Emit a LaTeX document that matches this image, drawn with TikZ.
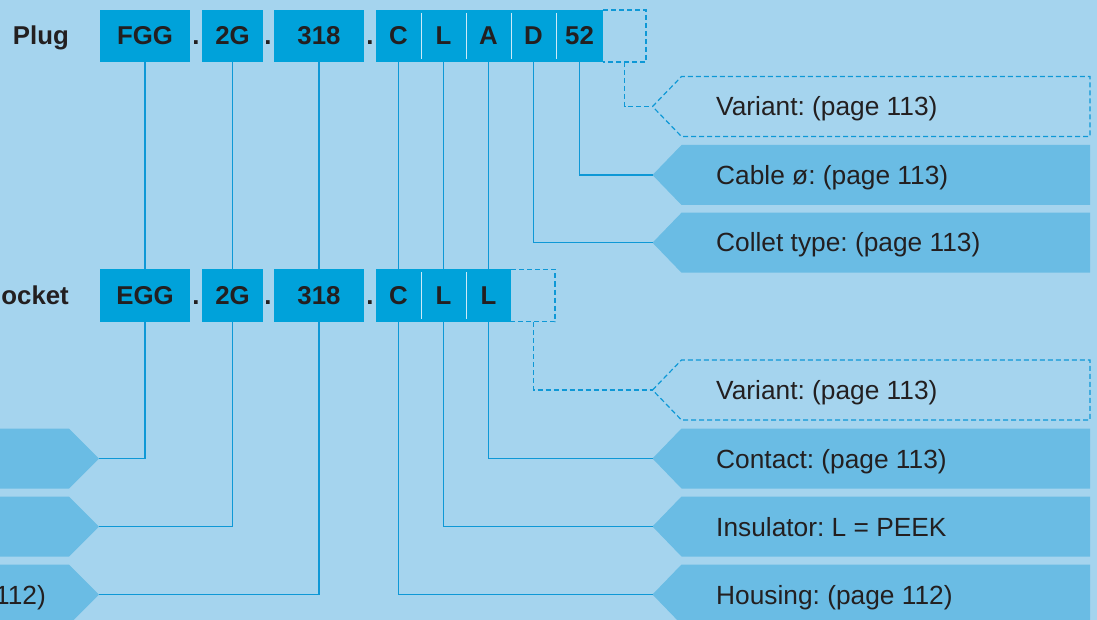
\documentclass[tikz,border=0pt]{standalone}
\usepackage{fontspec}
\setmainfont{Liberation Sans}
\frenchspacing
\definecolor{bgc}{HTML}{A5D4EE}
\definecolor{cellc}{HTML}{00A2DA}
\definecolor{arrc}{HTML}{6ABCE4}
\definecolor{linec}{HTML}{0E98D6}
\definecolor{txtc}{HTML}{231F20}
\definecolor{divc}{HTML}{CDEAF8}
\tikzset{
  cell/.style={fill=cellc, inner sep=0pt, minimum height=52pt, text height=18pt, text depth=0pt,
    font=\fontsize{25.8}{30}\selectfont\bfseries, text=txtc},
  dotlbl/.style={anchor=base, inner sep=0pt, font=\fontsize{25.8}{30}\selectfont\bfseries, text=txtc},
  rowlbl/.style={anchor=base east, inner sep=0pt, font=\fontsize{25.8}{30}\selectfont\bfseries, text=txtc},
  lbl/.style={anchor=base west, inner sep=0pt, font=\fontsize{26.3}{30}\selectfont, text=txtc},
  conn/.style={draw=linec, line width=1.2pt},
  dconn/.style={draw=linec, line width=1.2pt, dash pattern=on 5pt off 3pt},
  arrfill/.style={fill=arrc},
  divline/.style={draw=divc, line width=1pt}
}
\begin{document}
\begin{tikzpicture}[x=1pt,y=-1pt]
\fill[bgc] (0,0) rectangle (1097,620);
\useasboundingbox (0,0) rectangle (1097,620);
\clip (0,0) rectangle (1097,620);

% ---------- tip coordinates ----------
\coordinate (tVarP) at (652.5,106.5);
\coordinate (tCable) at (652.5,175);
\coordinate (tCollet) at (652.5,242.7);
\coordinate (tVarS) at (652.5,390);
\coordinate (tContact) at (652.5,458.5);
\coordinate (tInsul) at (652.5,526.5);
\coordinate (tHousing) at (652.5,594.5);
\coordinate (lA) at (99,458.5);
\coordinate (lB) at (99,526.5);
\coordinate (lC) at (99,594.5);

% ---------- right label shapes ----------
\draw[dconn] (tVarP) -- (681.5,76.5) -- (1090,76.5) -- (1090,136.5) -- (681.5,136.5) -- cycle;
\fill[arrc] (tCable) -- (681.5,145) -- (1090,145) -- (1090,205) -- (681.5,205) -- cycle;
\fill[arrc] (tCollet) -- (681.5,212.7) -- (1090,212.7) -- (1090,272.7) -- (681.5,272.7) -- cycle;
\draw[dconn] (tVarS) -- (681.5,360) -- (1090,360) -- (1090,420) -- (681.5,420) -- cycle;
\fill[arrc] (tContact) -- (681.5,428.5) -- (1090,428.5) -- (1090,488.5) -- (681.5,488.5) -- cycle;
\fill[arrc] (tInsul) -- (681.5,496.5) -- (1090,496.5) -- (1090,556.5) -- (681.5,556.5) -- cycle;
\fill[arrc] (tHousing) -- (681.5,564.5) -- (1090,564.5) -- (1090,624.5) -- (681.5,624.5) -- cycle;

% ---------- left label shapes ----------
\fill[arrc] (lA) -- (69,428.5) -- (-10,428.5) -- (-10,488.5) -- (69,488.5) -- cycle;
\fill[arrc] (lB) -- (69,496.5) -- (-10,496.5) -- (-10,556.5) -- (69,556.5) -- cycle;
\fill[arrc] (lC) -- (69,564.5) -- (-10,564.5) -- (-10,624.5) -- (69,624.5) -- cycle;

% ---------- labels ----------
\node[lbl] (xVarP) at (716,116) {Variant: (page 113)};
\node[lbl] (xCable) at (716,184.5) {Cable ø: (page 113)};
\node[lbl] (xCollet) at (716,252) {Collet type: (page 113)};
\node[lbl] (xVarS) at (716,399.5) {Variant: (page 113)};
\node[lbl] (xContact) at (716,468) {Contact: (page 113)};
\node[lbl] (xInsul) at (716,536) {Insulator: L = PEEK};
\node[lbl] (xHousing) at (716,604) {Housing: (page 112)};
\node[lbl, anchor=base east] (xLeftC) at (46,604) {112)};

% ---------- connector start points (bottom centres of the cells) ----------
\coordinate (bpFGG) at (145,62);
\coordinate (bp2G) at (232.5,62);
\coordinate (bp318) at (319,62);
\coordinate (bpC) at (398.5,62);
\coordinate (bpL) at (443.5,62);
\coordinate (bpA) at (488.5,62);
\coordinate (bpD) at (533.5,62);
\coordinate (bp52) at (579.5,62);
\coordinate (bpV) at (624.5,62);
\coordinate (bsV) at (533.5,322);

% ---------- connectors (drawn behind the cells) ----------
\draw[conn] (bpFGG) |- (lA);
\draw[conn] (bp2G) |- (lB);
\draw[conn] (bp318) |- (lC);
\draw[conn] (bpC) |- (tHousing);
\draw[conn] (bpL) |- (tInsul);
\draw[conn] (bpA) |- (tContact);
\draw[conn] (bpD) |- (tCollet);
\draw[conn] (bp52) |- (tCable);
\draw[dconn] (bpV) |- (tVarP);
\draw[dconn] (bsV) |- (tVarS);

% ---------- plug row ----------
\node[rowlbl] (plug) at (69,45) {Plug};
\node[cell, minimum width=90pt] (pFGG) at (145,36) {FGG};
\node[dotlbl] (pd1) at (196,45) {.};
\node[cell, minimum width=61pt] (p2G) at (232.5,36) {2G};
\node[dotlbl] (pd2) at (268,45) {.};
\node[cell, minimum width=90pt] (p318) at (319,36) {318};
\node[dotlbl] (pd3) at (370,45) {.};
\node[cell, minimum width=45pt] (pC) at (398.5,36) {C};
\node[cell, minimum width=45pt] (pL) at (443.5,36) {L};
\node[cell, minimum width=45pt] (pA) at (488.5,36) {A};
\node[cell, minimum width=45pt] (pD) at (533.5,36) {D};
\node[cell, minimum width=47pt] (p52) at (579.5,36) {52};
\draw[divline] (421,13) -- (421,59) (466,13) -- (466,59) (511,13) -- (511,59) (556,13) -- (556,59);
\draw[dconn] (603,10) -- (646,10) -- (646,62) -- (603,62);

% ---------- socket row ----------
\node[rowlbl] (sock) at (69,305) {ocket};
\node[cell, minimum width=90pt] (sEGG) at (145,295.5) {EGG};
\node[dotlbl] (sd1) at (196,305) {.};
\node[cell, minimum width=61pt] (s2G) at (232.5,295.5) {2G};
\node[dotlbl] (sd2) at (268,305) {.};
\node[cell, minimum width=90pt] (s318) at (319,295.5) {318};
\node[dotlbl] (sd3) at (370,305) {.};
\node[cell, minimum width=45pt] (sC) at (398.5,295.5) {C};
\node[cell, minimum width=45pt] (sL1) at (443.5,295.5) {L};
\node[cell, minimum width=45pt] (sL2) at (488.5,295.5) {L};
\draw[divline] (421,272.5) -- (421,318.5) (466,272.5) -- (466,318.5);
\draw[dconn] (511,269.5) -- (555,269.5) -- (555,321.5) -- (511,321.5);
\end{tikzpicture}
\end{document}
